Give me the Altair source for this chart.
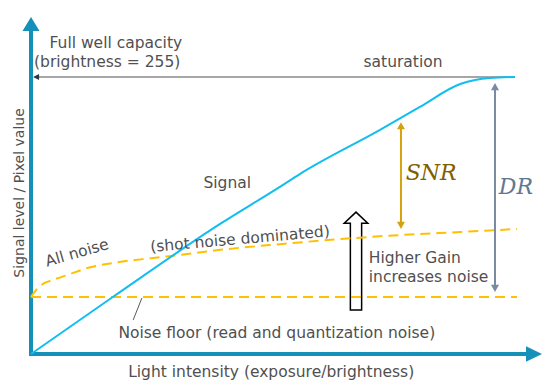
import altair as alt
import pandas as pd

# ---------------- data (x: light intensity 0-100, y: signal level 0-100) ----------------
signal_x = [0, 16.0, 37.0, 48.7, 52.6, 68.3, 76.1, 84.0, 86.9, 89.8, 94.7]
signal_y = [0, 16.9, 38.6, 49.6, 53.4, 66.5, 73.3, 80.1, 81.3, 81.9, 82.2]

allnoise_x = [0, 1.0, 2.7, 4.3, 7.6, 11.0, 16.0, 23.9, 29.2, 37.0, 48.7, 60.5, 72.2, 84.0, 95.1]
allnoise_y = [16.9, 19.0, 21.1, 22.0, 23.7, 25.5, 27.0, 28.5, 29.4, 30.9, 32.6, 34.1, 35.3, 36.2, 37.1]

noise_floor_level = 16.9
noise_floor_span = [0, 95.1]
saturation_level = 82.2
saturation_span = [0.4, 94.7]
axis_x_end = 100
axis_y_end = 100

snr_x = 72.4
snr_span = [37.1, 68.8]
dr_x = 90.8
dr_span = [18.4, 80.4]
gain_tip = [63.6, 42.1]
leader_x = [21.7, 20.0]
leader_y = [16.6, 10.1]

# labels: text, x, y
lbl_full1 = ["Full well capacity", 16.6, 92.3]
lbl_full2 = ["(brightness = 255)", 14.9, 86.6]
lbl_sat = ["saturation", 72.8, 86.6]
lbl_signal = ["Signal", 38.4, 50.7]
lbl_allnoise = ["All noise", 9.0, 30.0]
lbl_shot = ["(shot noise dominated)", 40.9, 34.1]
lbl_gain1 = ["Higher Gain", 66.1, 28.5]
lbl_gain2 = ["increases noise", 66.1, 22.8]
lbl_floor = ["Noise floor (read and quantization noise)", 48.1, 6.2]
lbl_xtitle = ["Light intensity (exposure/brightness)", 47.0, -5.3]
lbl_ytitle = ["Signal level / Pixel value", -2.15, 47.8]
lbl_snr = ["SNR", 78.3, 53.7]
lbl_dr = ["DR", 94.9, 49.6]

# ---------------- styling ----------------
AXIS_C = "#1591B9"
SIG_C = "#12BEEF"
NOISE_C = "#FFC000"
SNR_C = "#D4A20F"
SNR_T = "#7F6000"
DR_C = "#7A8BA1"
DR_T = "#5F7891"
TXT_C = "#505050"
FONT = "DejaVu Sans"

xs = alt.Scale(domain=[0, 100], nice=False, zero=False)
ys = alt.Scale(domain=[0, 100], nice=False, zero=False)


def X(f="x"):
    return alt.X(f"{f}:Q", scale=xs, axis=None)


def Y(f="y"):
    return alt.Y(f"{f}:Q", scale=ys, axis=None)


def head(px, py, path, size, color):
    return alt.Chart(pd.DataFrame({"x": px, "y": py})).mark_point(
        shape=path, size=size, filled=True, color=color, opacity=1, strokeWidth=0
    ).encode(x=X(), y=Y())


def seg(x1, y1, x2, y2, color, width, dash=None, cap="butt"):
    kw = dict(color=color, strokeWidth=width, strokeCap=cap)
    if dash:
        kw["strokeDash"] = dash
    return alt.Chart(pd.DataFrame({"x": [x1], "y": [y1], "x2": [x2], "y2": [y2]})).mark_rule(**kw).encode(
        x=X(), y=Y(), x2="x2:Q", y2="y2:Q"
    )


def label(item, size=15.5, color=TXT_C, align="center", angle=0, font=FONT, style="normal", weight="normal"):
    kw = dict(fontSize=size, color=color, align=align, baseline="middle", font=font,
              fontStyle=style, fontWeight=weight)
    if angle:
        kw["angle"] = angle
    return alt.Chart(pd.DataFrame({"t": [item[0]], "x": [item[1]], "y": [item[2]]})).mark_text(**kw).encode(
        x=X(), y=Y(), text="t:N"
    )


UP = "M0,0L1,1.8L-1,1.8Z"
DOWN = "M0,0L1,-1.8L-1,-1.8Z"
LEFT = "M0,0L2,-1L2,1Z"
Y_HEAD = "M0,0L1,1.65L-1,1.65Z"
X_HEAD = "M0,0L-2,-0.97L-2,0.97Z"
BLOCK = "M0,0L0.48,0.45L0.23,0.45L0.23,4L-0.23,4L-0.23,0.45L-0.48,0.45Z"

layers = []

# hollow "higher gain" arrow
layers.append(
    alt.Chart(pd.DataFrame({"x": [gain_tip[0]], "y": [gain_tip[1]]})).mark_point(
        shape=BLOCK, size=2401, fill="white", stroke="black", strokeWidth=1.5, opacity=1, filled=False
    ).encode(x=X(), y=Y())
)

# axes
layers.append(seg(0, 0, 0, 96, AXIS_C, 4, cap="square"))
layers.append(seg(0, 0, 97, 0, AXIS_C, 4, cap="square"))
layers.append(head([0], [axis_y_end], Y_HEAD, 289, AXIS_C))
layers.append(head([axis_x_end], [0], X_HEAD, 256, AXIS_C))

# saturation line
layers.append(seg(saturation_span[0] + 1, saturation_level, saturation_span[1], saturation_level, "#A6A6A6", 2))
layers.append(head([saturation_span[0]], [saturation_level], LEFT, 36, "#2F3640"))

# noise floor
layers.append(seg(noise_floor_span[0], noise_floor_level, noise_floor_span[1], noise_floor_level,
                  NOISE_C, 2, dash=[10, 6]))

# all noise curve
layers.append(
    alt.Chart(pd.DataFrame({"x": allnoise_x, "y": allnoise_y})).mark_line(
        color=NOISE_C, strokeWidth=2, strokeDash=[10, 6], interpolate="monotone"
    ).encode(x=X(), y=Y())
)

# signal
layers.append(
    alt.Chart(pd.DataFrame({"x": signal_x, "y": signal_y})).mark_line(
        color=SIG_C, strokeWidth=2, interpolate="monotone"
    ).encode(x=X(), y=Y())
)

# SNR arrow
layers.append(seg(snr_x, snr_span[0] + 1, snr_x, snr_span[1] - 1, SNR_C, 2))
layers.append(head([snr_x], [snr_span[1]], UP, 64, SNR_C))
layers.append(head([snr_x], [snr_span[0]], DOWN, 64, SNR_C))

# DR arrow
layers.append(seg(dr_x, dr_span[0] + 1, dr_x, dr_span[1] - 1, DR_C, 2))
layers.append(head([dr_x], [dr_span[1]], UP, 64, DR_C))
layers.append(head([dr_x], [dr_span[0]], DOWN, 64, DR_C))

# leader line for noise floor
layers.append(seg(leader_x[0], leader_y[0], leader_x[1], leader_y[1], "#595959", 1))

# labels
layers.append(label(lbl_full1))
layers.append(label(lbl_full2))
layers.append(label(lbl_sat))
layers.append(label(lbl_signal))
layers.append(label(lbl_allnoise, angle=344))
layers.append(label(lbl_shot, angle=355))
layers.append(label(lbl_gain1, align="left"))
layers.append(label(lbl_gain2, align="left"))
layers.append(label(lbl_floor))
layers.append(label(lbl_xtitle))
layers.append(label(lbl_ytitle, size=14, angle=270))
layers.append(label(lbl_snr, size=22, color=SNR_T, font="DejaVu Serif", style="italic"))
layers.append(label(lbl_dr, size=22, color=DR_T, font="DejaVu Serif", style="italic"))

chart = alt.layer(*layers).properties(
    width=511,
    height=337,
    autosize=alt.AutoSizeParams(type="none"),
    padding={"left": 23, "top": 9, "right": 9, "bottom": 28},
).configure_view(stroke=None)

chart.save("out.html", embed_options={"renderer": "svg", "actions": False})
